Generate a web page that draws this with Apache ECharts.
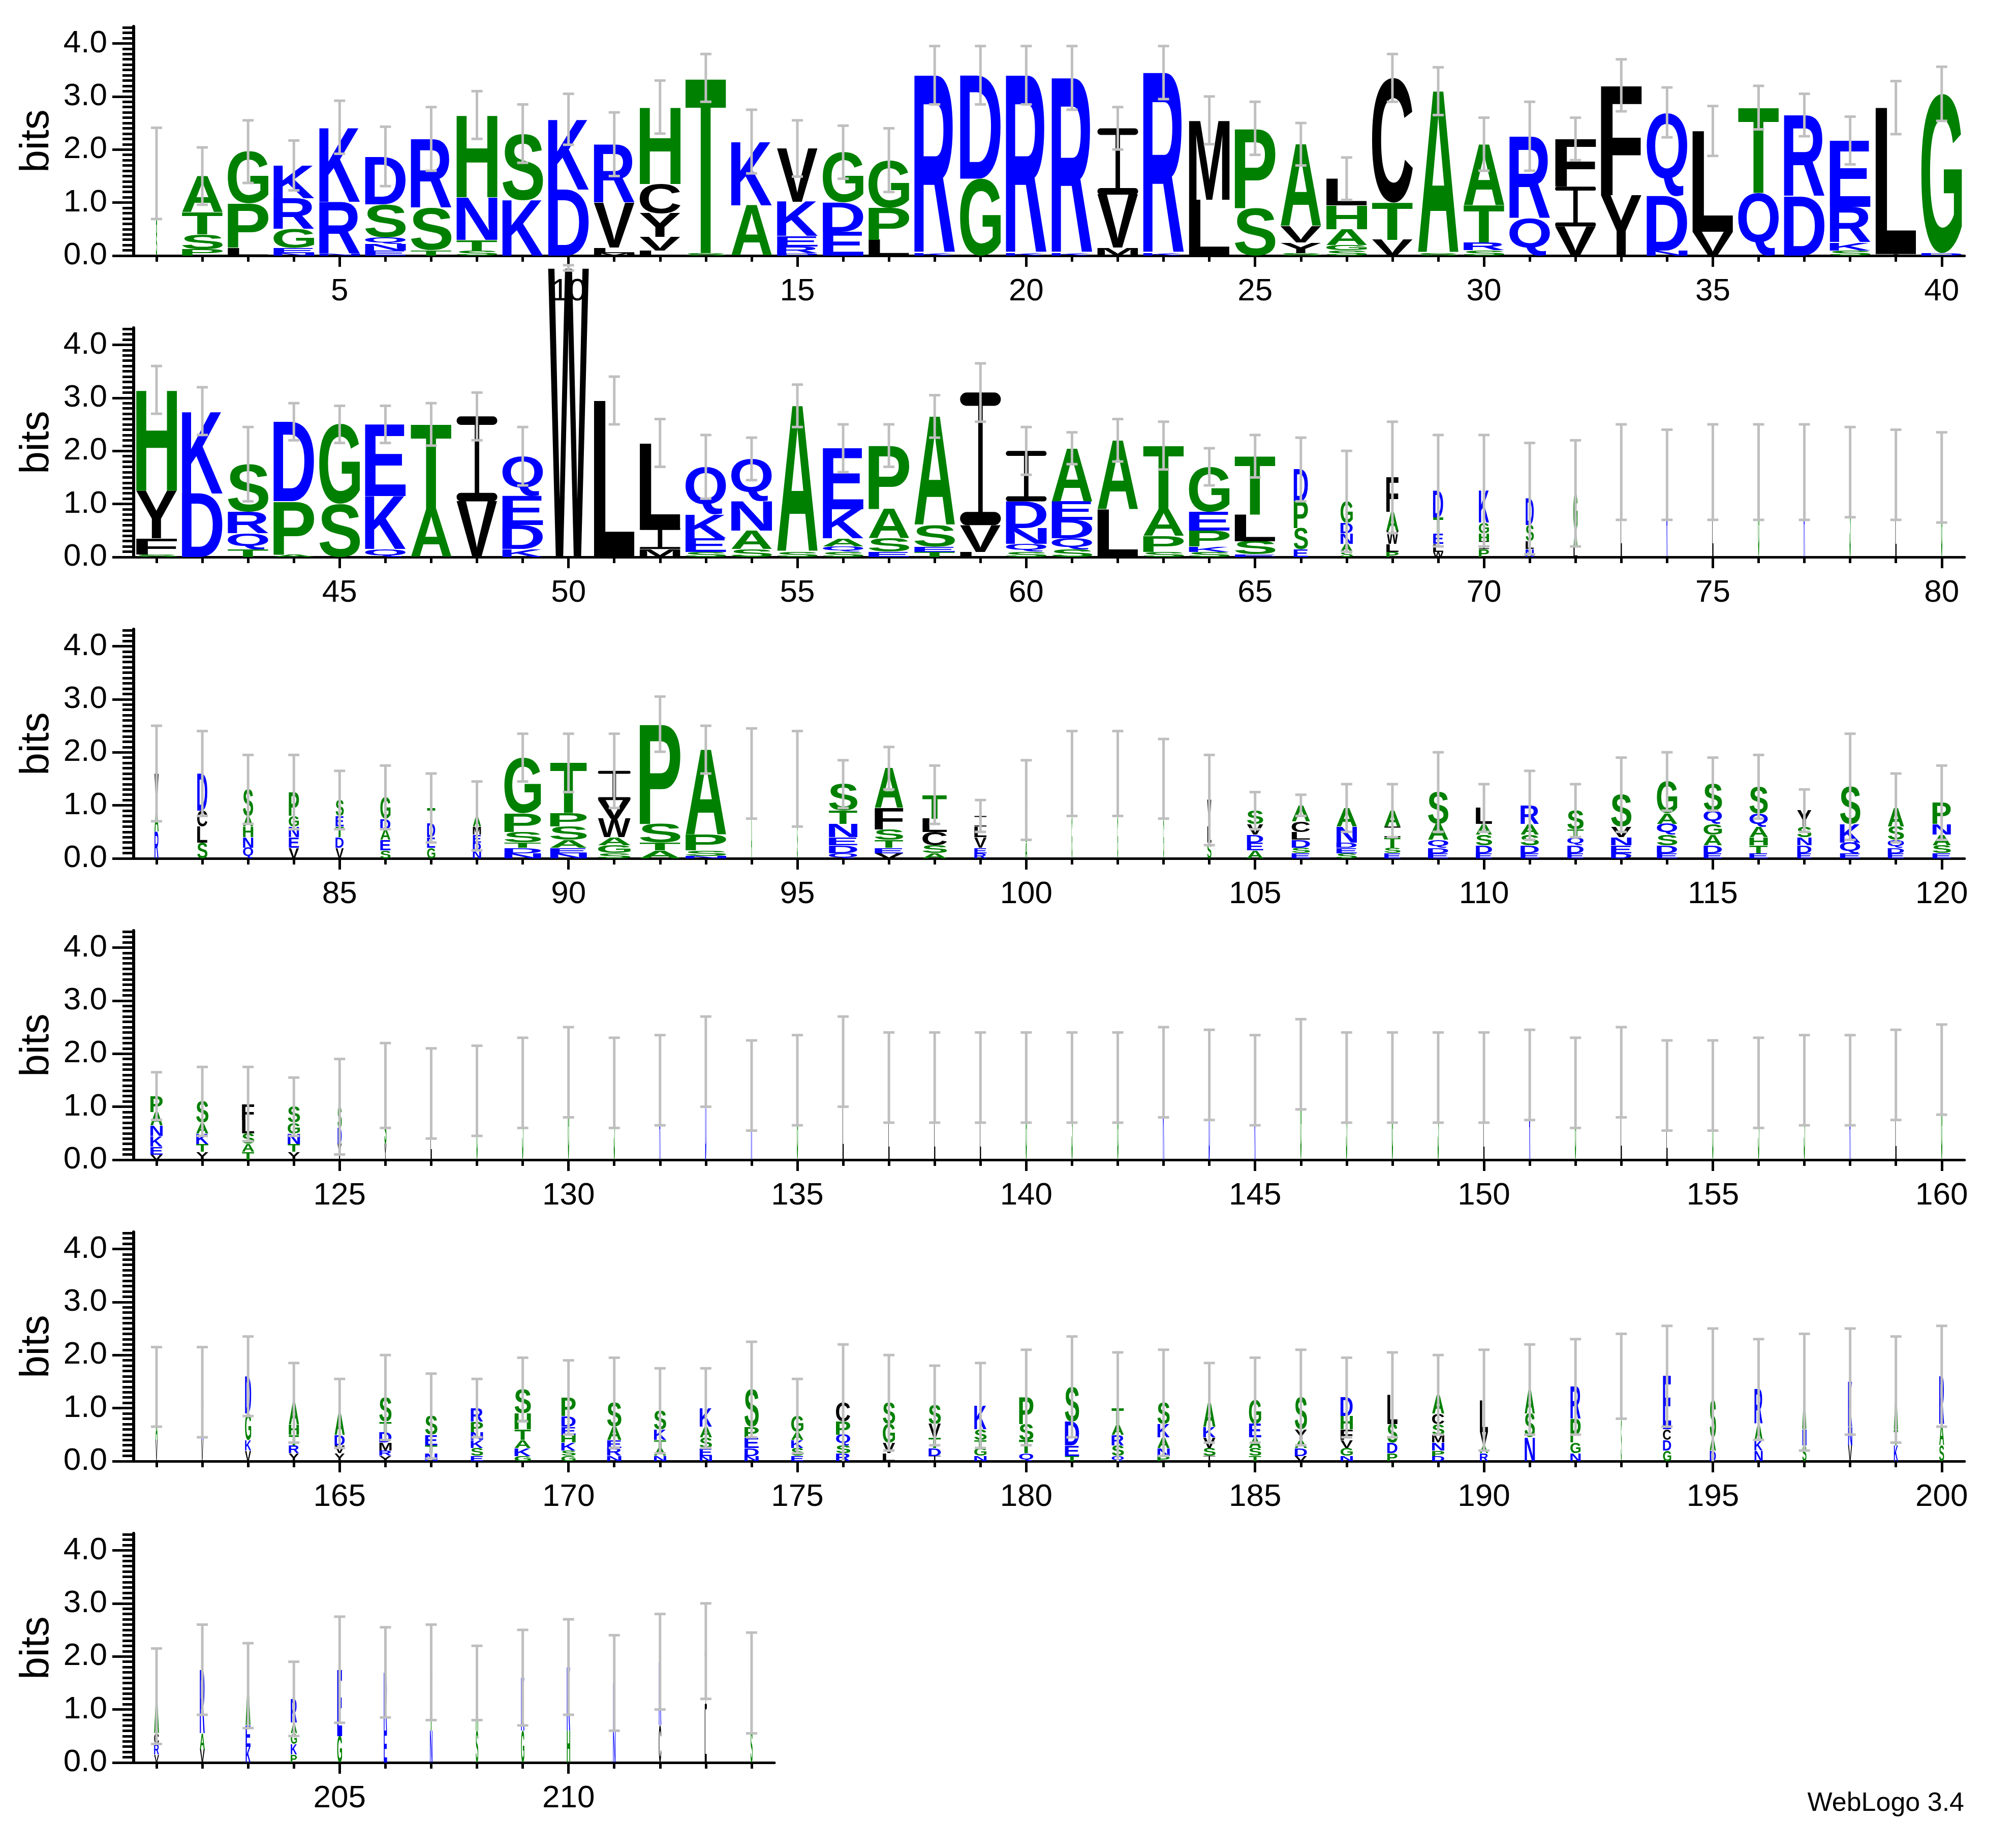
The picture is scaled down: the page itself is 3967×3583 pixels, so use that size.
<!DOCTYPE html>
<html><head><meta charset="utf-8">
<script src="https://cdn.jsdelivr.net/npm/echarts@6/dist/echarts.min.js"></script>
<style>html,body{margin:0;padding:0;background:#fff}#c{width:3967px;height:3583px}</style>
</head><body><div id="c"></div>
<script>
// ---- DATA ----
// Letter stacks per position (letter + height in bits)
const stacks = [
"G0.6 A0.5 S0.45","P0.12 S0.28 T0.42 A0.68","L0.15 P0.83 G0.98","N0.05 E0.1 G0.35 R0.58 K0.62","N0.04 R0.98 K1.4",
"E0.1 N0.12 Q0.13 S0.62 D0.9","T0.1 S0.8 R1.3","S0.1 T0.2 N0.8 H1.55","K1.05 S1.25","D1.25 K1.32",
"M0.05 L0.1 V0.85 R1.1","L0.1 V0.25 Y0.45 C0.55 H1.45","S0.05 T3.3","A0.95 K1.2","D0.05 R0.12 E0.2 K0.65 V1.0",
"E0.45 D0.55 G0.95","L0.3 P0.6 G0.9","K0.05 R3.35","G1.45 D1.95","K0.05 R3.35",
"K0.05 R3.3","M0.15 V1.0 I1.25","K0.05 R3.4","L1.05 M1.5","S0.9 P1.5",
"S0.05 Y0.2 V0.3 A1.55","S0.1 G0.1 A0.3 H0.45 L0.5","V0.3 T0.7 C2.35","S0.05 A3.05","R0.15 S0.1 T0.7 A1.15",
"Q0.7 R1.55","V0.55 I0.75 F0.9","Y1.14 F2.07","N0.1 D1.03 Q1.57","V0.45 L1.9",
"Q1.19 T1.6","D1.12 R1.53","S0.1 K0.15 R0.67 E1.25","I0.03 L2.76","D0.05 G3.0",
// 41-80
"S0.05 F0.3 Y0.9 H1.9","D1.2 K1.55","T0.15 Q0.3 R0.4 S0.9","A0.05 P1.0 D1.5","S1.0 G1.5",
"Q0.15 K1.0 E1.35","A0.9 T1.6","V1.05 I1.6","K0.15 D0.45 E0.55 Q0.75","W5.45",
"L2.95","M0.15 I0.4 L1.6","S0.1 E0.25 K0.45 Q0.9","S0.15 A0.35 N0.55 Q0.8","S0.1 A2.75",
"S0.1 Q0.1 A0.15 K0.55 E1.15","E0.1 S0.25 A0.55 P1.2","T0.1 E0.1 S0.4 A2.05","L0.1 V0.5 I2.5","S0.1 Q0.15 N0.3 D0.5 I0.95",
"Q0.2 S0.15 D0.35 E0.35 A1.0","L0.9 A1.3","S0.1 P0.3 A0.5 T1.2","S0.1 K0.1 P0.3 E0.35 G0.85","E0.05 S0.25 L0.5 T1.1",
"E0.15 S0.4 P0.5 D0.6","S0.1 A0.15 N0.2 D0.2 G0.4","P0.1 L0.15 W0.25 A0.35 F0.65","W0.1 L0.15 E0.2 T0.3 D0.5","P0.15 I0.15 H0.15 G0.2 K0.6",
"N0.15 L0.15 S0.3 D0.5","L0.2 A0.3 G0.7","L1.6","R1.55","L1.6",
"G1.6","R1.6","S1.6","L1.55","G1.5",
// 81-120
"V0.6 R0.5 A0.5","S0.3 L0.3 C0.3 D0.7","Q0.2 N0.2 H0.2 A0.2 S0.5","V0.2 E0.2 N0.2 G0.2 P0.45","V0.2 D0.2 T0.2 E0.2 S0.3",
"S0.15 E0.2 A0.2 D0.2 G0.4","G0.2 E0.2 D0.25 T0.3","N0.15 D0.15 E0.15 M0.15 A0.2","N0.1 D0.1 T0.1 S0.2 P0.35 G1.05","N0.1 E0.1 A0.15 S0.25 P0.25 T0.95",
"G0.15 S0.1 A0.15 W0.35 V0.35 I0.55","A0.15 T0.15 S0.35 P1.88","N0.05 S0.1 P0.3 A1.6","A0.8 S0.8","A0.8 S0.7",
"Q0.1 D0.15 E0.15 N0.25 T0.25 S0.5","V0.1 E0.1 T0.15 S0.2 F0.4 A0.75","A0.1 S0.15 C0.25 L0.25 T0.45","R0.1 E0.1 V0.2 L0.2 I0.2","V0.5 A0.3 S0.3",
"G0.8 A0.8","G0.8 A0.8","G0.75 A0.75","S0.3 L0.3 V0.5","A0.15 E0.15 D0.15 V0.2 S0.25",
"E0.1 S0.1 D0.15 C0.2 L0.15 A0.3","S0.1 E0.1 D0.1 N0.3 A0.35","E0.1 S0.1 A0.3 T0.2 I0.2","E0.1 D0.1 Q0.15 A0.3 S0.6","E0.1 D0.15 S0.2 A0.2 L0.3",
"E0.1 D0.15 S0.2 A0.2 R0.35","E0.1 D0.15 Q0.15 T0.15 S0.35","D0.1 E0.15 N0.15 V0.2 S0.6","E0.1 D0.15 S0.2 Q0.2 A0.2 G0.6","E0.1 D0.15 A0.2 Q0.25 G0.2 S0.5",
"E0.1 T0.15 H0.15 A0.2 Q0.25 S0.5","E0.1 D0.15 N0.15 S0.2 Y0.3","E0.1 Q0.2 K0.35 S0.7","E0.1 D0.1 Q0.15 S0.25 A0.35","E0.1 S0.15 A0.2 N0.2 P0.4",
// 121-160
"V0.1 E0.15 K0.2 N0.2 A0.25 P0.3","Y0.15 K0.2 A0.2 T0.15 S0.4","T0.15 A0.15 S0.2 L0.25 F0.3","Y0.15 T0.15 N0.2 G0.2 S0.3","Y0.3 S0.4 D0.3",
"Y0.3 S0.5 A0.6","L1.25","G1.3","S1.45","G1.65",
"S1.45","R1.5","D1.85","R1.4","G1.5",
"L1.85","L1.55","L1.55","L1.55","G1.55",
"S1.55","G1.55","K1.65","D1.6","K1.5",
"G1.8","S1.55","G1.55","S1.55","L1.55",
"R1.6","G1.45","L1.65","L1.4","G1.4",
"S1.45","S1.5","R1.5","L1.6","G1.7",
// 161-200
"V0.4 S0.6 A0.4","V0.4 D0.5 K0.4","V0.2 K0.2 G0.5 D0.7","Y0.15 T0.2 R0.15 H0.2 A0.4","Y0.15 V0.15 D0.2 A0.4",
"Y0.1 R0.1 M0.15 D0.2 T0.2 S0.45","N0.15 T0.15 E0.2 S0.35","E0.1 S0.15 K0.15 N0.15 R0.25 P0.2","G0.1 K0.15 A0.15 T0.2 H0.3 S0.45","G0.1 S0.1 K0.15 H0.15 E0.15 D0.2 P0.35",
"N0.1 R0.15 E0.15 A0.25 S0.45","N0.1 A0.15 K0.2 T0.15 S0.35","N0.1 E0.15 S0.2 A0.2 K0.35","N0.1 D0.15 E0.2 P0.2 S0.7","E0.1 S0.15 K0.15 A0.15 G0.3",
"R0.15 S0.15 Q0.2 P0.25 C0.35","L0.15 V0.2 G0.35 S0.4","I0.1 D0.15 V0.25 T0.2 S0.35","N0.1 G0.15 T0.15 S0.2 K0.45","Q0.15 T0.25 S0.3 P0.5",
"T0.1 E0.2 D0.45 S0.65","Q0.1 S0.2 R0.2 A0.2 T0.3","P0.1 N0.15 A0.2 K0.25 S0.4","I0.1 S0.15 V0.2 K0.2 A0.45","T0.1 S0.15 E0.25 A0.2 G0.45",
"V0.1 D0.15 A0.15 Y0.2 S0.6","N0.1 G0.15 F0.2 V0.15 H0.25 D0.35","P0.15 D0.2 S0.35 L0.55","D0.1 P0.1 N0.15 M0.15 S0.2 C0.2 A0.35","R0.15 A0.15 V0.25 L0.6",
"N0.45 S0.45 A0.45","N0.15 G0.2 P0.45 R0.6","S0.8 G0.8","G0.2 D0.2 C0.2 E1.0","D0.2 A0.25 S0.7",
"N0.2 K0.2 A0.3 R0.65","S0.3 N0.3 A0.7","V0.3 N0.35 K0.85","K0.3 T0.3 A0.75","S0.3 A0.4 R0.9",
// 201-214
"V0.15 R0.2 C0.2 A0.7","V0.25 A0.3 R1.2","K0.3 E0.4 A0.75","P0.15 K0.2 G0.2 A0.2 R0.45","G0.5 E1.25",
"E0.6 R1.1","N0.6 T1.1","S0.6 A0.9","G0.6 K1.0","H0.6 K1.2",
"N0.6 R0.9","C0.7 R1.2","L1.0 I1.1","D0.9 S0.6"
];
// Column width (fraction of non-gap sequences)
const occupancy = [
0.03,1,1,1,1,1,1,1,1,1, 1,1,1,1,1,1,1,1,1,1, 1,1,1,1,1,1,1,1,1,1, 1,1,1,1,1,1,1,1,1,1,
1,1,1,1,1,1,1,1,1,1, 1,1,1,1,1,1,1,1,1,1, 1,1,1,1,1,0.35,0.3,0.3,0.25,0.25, 0.2,0.1,0.03,0.03,0.03,0.03,0.03,0.03,0.03,0.03,
0.1,0.25,0.25,0.25,0.2,0.25,0.2,0.2,0.9,0.9, 0.8,1,1,0.02,0.02,0.7,0.7,0.6,0.3,0.05, 0.02,0.02,0.02,0.1,0.4,0.45,0.5,0.4,0.5,0.4, 0.45,0.4,0.5,0.5,0.45,0.45,0.35,0.5,0.4,0.45,
0.3,0.3,0.3,0.3,0.1,0.05,0.03,0.03,0.03,0.03, 0.03,0.03,0.03,0.03,0.03,0.03,0.03,0.03,0.03,0.03, 0.03,0.03,0.03,0.03,0.03,0.03,0.03,0.03,0.03,0.03, 0.03,0.03,0.03,0.03,0.03,0.03,0.03,0.03,0.03,0.03,
0.05,0.05,0.15,0.25,0.25,0.3,0.3,0.3,0.4,0.35, 0.35,0.3,0.3,0.35,0.3,0.35,0.3,0.3,0.3,0.35, 0.35,0.3,0.3,0.3,0.3,0.3,0.3,0.25,0.3,0.2, 0.25,0.25,0.02,0.2,0.15,0.2,0.1,0.1,0.1,0.12,
0.12,0.12,0.12,0.15,0.12,0.08,0.06,0.06,0.08,0.08,0.06,0.06,0.05,0.05
];
// Error bar top (bits)
const errTop = [
2.41,2.04,2.55,2.17,2.92,2.43,2.8,3.1,2.85,3.05, 2.7,3.3,3.8,2.75,2.55,2.45,2.4,3.95,3.95,3.95,
3.95,2.8,3.95,3.0,2.9,2.5,1.85,3.8,3.55,2.6, 2.9,2.6,3.7,3.17,2.82,3.2,3.05,2.62,3.29,3.56,
3.6,3.2,2.45,2.9,2.85,2.85,2.9,3.1,2.45,5.5, 3.4,2.6,2.3,2.25,3.25,2.5,2.5,3.05,3.65,2.45,
2.35,2.6,2.55,2.05,2.3,2.25,2.0,2.55,2.3,2.3, 2.15,2.2,2.5,2.4,2.5,2.5,2.5,2.45,2.4,2.35,
2.5,2.4,1.95,1.95,1.65,1.75,1.6,1.45,2.35,2.35, 2.35,3.05,2.5,2.45,2.4,1.85,2.1,1.75,1.1,1.85,
2.4,2.4,2.25,1.95,1.25,1.2,1.4,1.4,2.0,1.4, 1.65,1.4,1.9,2.0,1.9,1.95,1.3,2.35,1.6,1.75,
1.65,1.75,1.75,1.55,1.9,2.2,2.1,2.15,2.3,2.5, 2.3,2.35,2.7,2.25,2.35,2.7,2.4,2.4,2.4,2.4,
2.4,2.4,2.5,2.45,2.35,2.65,2.4,2.4,2.4,2.4, 2.45,2.3,2.5,2.25,2.25,2.3,2.35,2.35,2.45,2.55,
2.15,2.15,2.35,1.85,1.55,2.0,1.65,1.55,1.95,1.9, 1.95,1.75,1.75,2.25,1.55,2.2,2.0,1.8,1.85,2.1,
2.35,2.05,2.1,1.85,1.95,2.1,1.95,2.05,2.0,2.1, 2.2,2.3,2.4,2.55,2.5,2.3,2.4,2.5,2.35,2.55,
2.15,2.6,2.25,1.9,2.75,2.55,2.6,2.2,2.5,2.7,2.4,2.8,3.0,2.45
];
const rowStarts = [1,41,81,121,161,201];
const rowEnds = [40,80,120,160,200,214];
const yTickLabels = [0,1,2,3,4];
const xTickLabels = [5,10,15,20,25,30,35,40,45,50,55,60,65,70,75,80,85,90,95,100,105,110,115,120,125,130,135,140,145,150,155,160,165,170,175,180,185,190,195,200,205,210];

// ---- STYLE ----
const colorOf = l => ('GSTAPH'.includes(l) ? '#008000' : 'KRDENQ'.includes(l) ? '#0000ff' : '#000000');
const FONT = 'bold 200px "Liberation Sans", Arial, sans-serif';
const cv = document.createElement('canvas').getContext('2d');
cv.font = FONT; cv.textBaseline = 'middle'; cv.textAlign = 'left';
const metrics = {};
function metric(l){
  if(!metrics[l]){const m=cv.measureText(l);metrics[l]={L:m.actualBoundingBoxLeft,R:m.actualBoundingBoxRight,A:m.actualBoundingBoxAscent,D:m.actualBoundingBoxDescent};}
  return metrics[l];
}
function parseStack(s){
  return s.trim().split(/\s+/).map(t=>({l:t[0],h:parseFloat(t.slice(1))})).sort((a,b)=>a.h-b.h);
}

const ZERO0 = 503, ROWSTEP = 593, PLOT_H = 451, LEFT = 263, COLW = 90.07, YMAX = 4.32;
const grids=[], xAxes=[], yAxes=[], series=[];
rowStarts.forEach((st,i)=>{
  const en=rowEnds[i];
  const w = (en-st+1)*COLW;
  grids.push({left:LEFT, top:ZERO0+ROWSTEP*i-PLOT_H, width:w, height:PLOT_H});
  const min=st-0.5, max=en+0.5;
  const ints=[]; for(let p=st;p<=en;p++) ints.push(p);
  const labs=xTickLabels.filter(v=>v>=st&&v<=en);
  xAxes.push({gridIndex:i,type:'value',min,max,position:'bottom',
    axisLine:{show:true,lineStyle:{color:'#000',width:5}},
    axisTick:{show:true,customValues:labs,length:22,lineStyle:{color:'#000',width:5}},
    axisLabel:{show:true,customValues:labs,fontSize:62,color:'#000',margin:40,fontFamily:'"Liberation Sans", Arial'},
    splitLine:{show:false}});
  xAxes.push({gridIndex:i,type:'value',min,max,position:'bottom',
    axisLine:{show:false},
    axisTick:{show:true,customValues:ints,length:12,lineStyle:{color:'#000',width:5}},
    axisLabel:{show:false},splitLine:{show:false}});
  const minors=[]; for(let k=0;k<=43;k++) minors.push(k/10);
  yAxes.push({gridIndex:i,type:'value',min:0,max:YMAX,position:'left',
    name:'bits',nameLocation:'middle',nameGap:150,nameRotate:90,
    nameTextStyle:{fontSize:80,color:'#000',fontFamily:'"Liberation Sans", Arial'},
    axisLine:{show:true,lineStyle:{color:'#000',width:6}},
    axisTick:{show:true,customValues:yTickLabels,length:42,lineStyle:{color:'#000',width:5}},
    axisLabel:{show:true,customValues:yTickLabels,formatter:v=>v.toFixed(1),fontSize:62,color:'#000',margin:52,fontFamily:'"Liberation Sans", Arial'},
    splitLine:{show:false}});
  yAxes.push({gridIndex:i,type:'value',min:0,max:YMAX,position:'left',
    axisLine:{show:false},
    axisTick:{show:true,customValues:minors,length:22,lineStyle:{color:'#000',width:5}},
    axisLabel:{show:false},splitLine:{show:false}});
  const data=[]; for(let p=st;p<=en;p++) data.push([p, errTop[p-1]]);
  series.push({type:'custom',xAxisIndex:2*i,yAxisIndex:2*i,clip:false,data,
    renderItem:(params,api)=>{
      const pos=api.value(0), cap=api.value(1);
      const col=api.size([1,0])[0], bit=api.size([0,1])[1];
      const occ=occupancy[pos-1];
      const wpx=col*0.89*occ;
      const base=api.coord([pos,0]);
      const cx=base[0];
      let y=base[1];
      const children=[];
      let total=0;
      parseStack(stacks[pos-1]).forEach(o=>{
        const hpx=o.h*bit; total+=o.h;
        const fill=colorOf(o.l);
        if(o.l==='I'){
          const ch=Math.max(hpx*0.1,0.5), sw=Math.max(wpx*0.11,0.5), r=ch/2;
          children.push({type:'rect',shape:{x:cx-wpx/2,y:y-ch,width:wpx,height:ch,r:r},style:{fill}});
          children.push({type:'rect',shape:{x:cx-wpx/2,y:y-hpx,width:wpx,height:ch,r:r},style:{fill}});
          children.push({type:'rect',shape:{x:cx-sw/2,y:y-hpx+ch*0.5,width:sw,height:hpx-ch},style:{fill}});
        } else {
          const m=metric(o.l);
          const W0=m.L+m.R, H0=m.A+m.D;
          children.push({type:'text',x:cx-wpx/2,y:y,scaleX:wpx/W0,scaleY:hpx/H0,
            style:{text:o.l,font:FONT,fill,x:m.L,y:-m.D,align:'left',verticalAlign:'middle'}});
        }
        y-=hpx;
      });
      const lo=Math.max(0,2*total-cap);
      const yTop=base[1]-cap*bit, yLo=base[1]-lo*bit, cw=11;
      const ls={stroke:'#bfbfbf',lineWidth:5};
      children.push({type:'line',shape:{x1:cx,y1:yTop,x2:cx,y2:yLo},style:ls});
      children.push({type:'line',shape:{x1:cx-cw,y1:yTop,x2:cx+cw,y2:yTop},style:ls});
      if(lo>0) children.push({type:'line',shape:{x1:cx-cw,y1:yLo,x2:cx+cw,y2:yLo},style:ls});
      return {type:'group',children};
    }});
});
const chart=echarts.init(document.getElementById('c'),null,{renderer:'canvas'});
chart.setOption({animation:false,backgroundColor:'#fff',grid:grids,xAxis:xAxes,yAxis:yAxes,series,
  graphic:[{type:'text',right:102,bottom:8,style:{text:'WebLogo 3.4',font:'52px "Liberation Sans", Arial',fill:'#000'}}]});
</script></body></html>
